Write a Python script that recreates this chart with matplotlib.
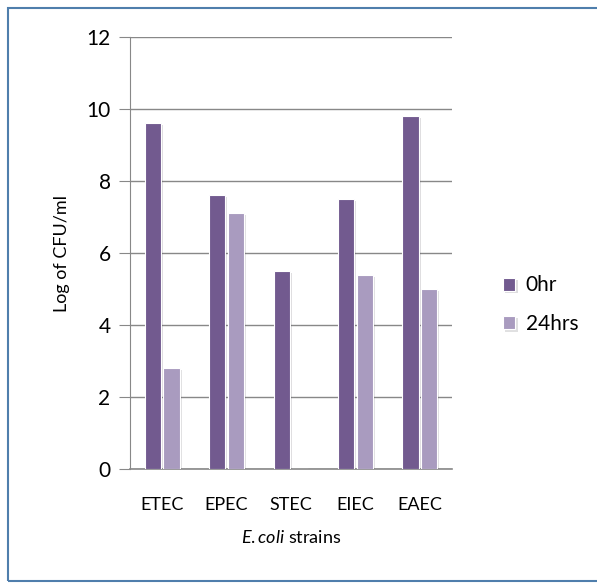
import matplotlib.pyplot as plt
import matplotlib.patheffects as pe
import numpy as np

plt.rcParams['font.family'] = ['Lato', 'DejaVu Sans']
plt.rcParams['mathtext.fontset'] = 'custom'
plt.rcParams['mathtext.it'] = 'Lato:italic'
plt.rcParams['mathtext.rm'] = 'Lato'

strains = ['ETEC', 'EPEC', 'STEC', 'EIEC', 'EAEC']
hr0 = [9.6, 7.6, 5.5, 7.5, 9.8]
hr24 = [2.8, 7.1, 0, 5.4, 5.0]

W, H = 597, 583
fig = plt.figure(figsize=(W / 100, H / 100), dpi=100)

# outer frame
fig.patches.append(plt.Rectangle((8 / W, 2 / H), 1.2, (H - 10) / H, transform=fig.transFigure,
                                 fill=False, edgecolor='#4f7eac', linewidth=1.5))

ax = fig.add_axes([130 / W, 1 - 469 / H, (452 - 130) / W, (469 - 37) / H])

x = np.arange(len(strains))
w = 0.25
shadow = [pe.SimplePatchShadow(offset=(1.5, -1.5), alpha=0.15), pe.Normal()]
ax.bar(x - w / 2 - 0.02, hr0, w, color='#725a8f', edgecolor='white', linewidth=0.8,
       label='0hr', zorder=3, path_effects=shadow)
ax.bar(x + w / 2 + 0.02, hr24, w, color='#a99bbf', edgecolor='white', linewidth=0.8,
       label='24hrs', zorder=3, path_effects=shadow)

ax.set_xlim(-0.5, len(strains) - 0.5)
ax.set_ylim(0, 12)
ax.set_yticks(range(0, 13, 2))
ax.set_xticks(x)
ax.set_xticklabels(strains, fontsize=13)
ax.tick_params(axis='y', labelsize=15, length=8, color='#888888', pad=6)
ax.tick_params(axis='x', length=0, pad=20)
ax.yaxis.grid(True, color='#888888', linewidth=1, zorder=0)
for s in ['top', 'right']:
    ax.spines[s].set_visible(False)
ax.spines['left'].set_color('#888888')
ax.spines['bottom'].set_color('#888888')
ax.spines['bottom'].set_linewidth(1.2)

ax.set_ylabel('Log of CFU/ml', fontsize=13, labelpad=12)
ax.set_xlabel(r'$\it{E.coli}$ strains', fontsize=13, labelpad=12)

ax.legend(loc='center left', bbox_to_anchor=(1.1, 0.38), frameon=False, fontsize=15,
          handlelength=0.6, handleheight=0.6, handletextpad=0.5, labelspacing=0.9)

plt.savefig('out.png', dpi=100)
